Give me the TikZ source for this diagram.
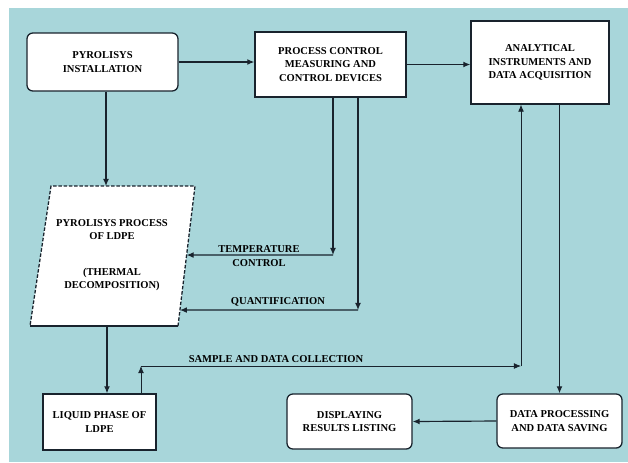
\documentclass[tikz,border=0pt]{standalone}
\usepackage{fontspec}
\setmainfont{Liberation Serif}
\usetikzlibrary{arrows.meta,calc}
\definecolor{bgblue}{RGB}{168,214,218}
\definecolor{ink}{RGB}{25,35,45}
\begin{document}
\begin{tikzpicture}[x=0.03cm,y=-0.03cm,>={Latex[length=6pt,width=5pt]},
    font=\fontsize{9}{11.5}\selectfont\bfseries,
    box/.style={draw=ink,fill=white,line width=1.1pt,align=center,inner sep=2pt},
    rbox/.style={box,rounded corners=5pt},
    link/.style={->,draw=ink,line width=1pt}]
    \useasboundingbox (0,0) rectangle (628,462);
    \fill[bgblue] (9,8) rectangle (628,462);
    % boxes
    \node[rbox,minimum width=4.53cm,minimum height=1.74cm] (inst) at (102.5,62) {PYROLISYS\\INSTALLATION};
    \node[box,minimum width=4.53cm,minimum height=1.95cm] (ctrl) at (330.5,64.5) {PROCESS CONTROL\\MEASURING AND\\CONTROL DEVICES};
    \node[box,minimum width=4.14cm,minimum height=2.49cm] (anal) at (540,62.5) {ANALYTICAL\\INSTRUMENTS AND\\DATA ACQUISITION};
    \node[box,minimum width=3.39cm,minimum height=1.68cm] (liq) at (99.5,422) {LIQUID PHASE OF\\LDPE};
    \node[rbox,minimum width=3.75cm,minimum height=1.65cm] (disp) at (349.5,421.5) {DISPLAYING\\RESULTS LISTING};
    \node[rbox,minimum width=3.75cm,minimum height=1.62cm] (dproc) at (559.5,421) {DATA PROCESSING\\AND DATA SAVING};
    % pyrolysis parallelogram
    \coordinate (ptl) at (51,186);
    \coordinate (ptr) at (195,186);
    \coordinate (pbr) at (178,326);
    \coordinate (pbl) at (30,326);
    \fill[white] (ptl) -- (ptr) -- (pbr) -- (pbl) -- cycle;
    \draw[ink,line width=1.1pt] (pbl) -- (pbr);
    \draw[ink,line width=1.1pt,dash pattern=on 3pt off 1.5pt] (pbr) -- (ptr) -- (ptl) -- (pbl);
    \node[align=center] (proc) at (112,255) {PYROLISYS PROCESS\\OF LDPE\\[19pt](THERMAL\\DECOMPOSITION)};
    \coordinate (tc) at ($(ptr)!0.493!(pbr)$);
    \coordinate (qc) at ($(ptr)!0.886!(pbr)$);
    \coordinate (pb) at (107,326);
    % corners
    \coordinate (tk) at (333,255);
    \coordinate (qk) at (358,310);
    \coordinate (sk) at (141,366);
    \coordinate (sr) at (521,366);
    % connectors
    \draw[link] (inst.east) -- (inst.east -| ctrl.west);
    \draw[link] (ctrl.east) -- (ctrl.east -| anal.west);
    \draw[link] (inst.south -| 106,0) -- (106,186);
    \draw[link] (ctrl.south -| tk) -- (tk);
    \draw[link] (tk) -- (tc);
    \draw[link] (ctrl.south -| qk) -- (qk);
    \draw[link] (qk) -- (qc);
    \draw[link] (pb) -- (pb |- liq.north);
    \draw[link,line width=0.7pt] (liq.north -| sk) -- (sk);
    \draw[link,line width=0.7pt] (sk) -- (sr);
    \draw[link,line width=0.7pt] (sr) -- (anal.south -| sr);
    \draw[link] (dproc.north |- anal.south) -- (dproc.north);
    \draw[link] (dproc.west) -- (disp.east);
    % labels
    \node[align=center] (templbl) at (259,256) {TEMPERATURE\\CONTROL};
    \node (quantlbl) at (278,302) {QUANTIFICATION};
    \node (samplelbl) at (276,359) {SAMPLE AND DATA COLLECTION};
\end{tikzpicture}
\end{document}
